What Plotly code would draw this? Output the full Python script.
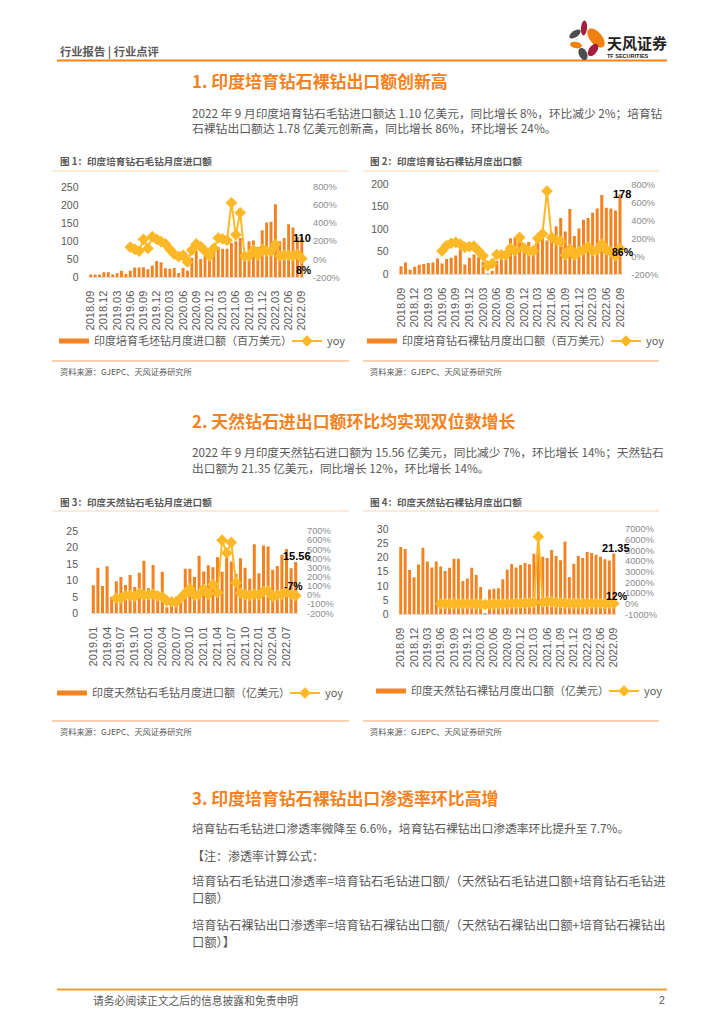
import math
import plotly.graph_objects as go

W, H = 724, 1024
CJK = "Noto Sans CJK SC"
LAT = "Liberation Sans"
ORANGE = "#F58220"
YEL = "#FDB827"
GRAY = "#595959"

months_a = ["2018.09","2018.10","2018.11","2018.12","2019.01","2019.02","2019.03","2019.04","2019.05","2019.06",
            "2019.07","2019.08","2019.09","2019.10","2019.11","2019.12","2020.01","2020.02","2020.03","2020.04",
            "2020.05","2020.06","2020.07","2020.08","2020.09","2020.10","2020.11","2020.12","2021.01","2021.02",
            "2021.03","2021.04","2021.05","2021.06","2021.07","2021.08","2021.09","2021.10","2021.11","2021.12",
            "2022.01","2022.02","2022.03","2022.04","2022.05","2022.06","2022.07","2022.08","2022.09"]
months_c = months_a[4:]
ticks_a = months_a[::3]
ticks_c = months_c[::3]

bars_1 = [8,8,8,14,14,8,11,18,9,18,27,27,28,22,33,45,42,25,24,26,12,26,18,54,74,51,60,50,71,84,79,79,95,100,109,
          70,100,102,84,130,152,154,202,100,109,147,138,112,110]
yoy_1 = [None]*9 + [135,110,90,220,120,250,220,195,170,110,55,30,45,-30,100,170,140,90,35,120,235,225,210,625,270,515,
                    35,35,100,45,110,90,90,165,35,45,45,35,55,8]
bars_2 = [18,26,10,17,21,23,25,26,35,24,34,37,42,55,22,37,44,38,28,1,8,30,35,42,80,81,70,50,72,50,85,90,75,85,107,
          125,95,145,85,102,121,125,137,146,176,148,146,142,178]
yoy_2 = [None]*9 + [60,120,145,155,135,100,108,112,60,5,-105,-80,20,15,15,90,60,210,90,60,60,200,250,725,210,180,165,
                    15,80,15,50,70,105,60,70,135,70,50,8,86]
bars_3 = [8.5,13.8,8.3,14.3,5,9.7,11,8.6,11.6,8,12.3,16,7.6,14.7,5.5,12.6,1.8,3,3.5,4,13.5,13.5,11,17.5,12.7,14.6,14,
          17,12.6,17,15.7,12,16.7,13.8,10.5,21,12.2,20.6,20.3,13.2,14.4,17.8,19.5,13.7,15.56]
yoy_3 = [None]*5 + [-35,-35,-5,-5,-15,20,0,0,10,-10,-20,-65,-75,-75,-35,20,70,-5,10,65,8,115,25,600,460,575,135,20,5,
                    -5,10,0,40,45,-20,0,8,30,10,-7]
bars_4 = [23.7,23,15.6,13,17.5,23.4,18.6,16.5,18.6,16.8,15.2,16.4,19.5,19.5,11.7,12.6,16.4,13.8,9.6,0.3,8.7,9,9.2,12.3,
          15.7,17.7,16.5,17.3,18,17.6,21.3,21.6,20.2,19.8,22.6,20.5,19,25.6,13.1,17.8,20.5,19.8,21.9,21.6,20.9,20.2,
          19.4,18.9,21.35]
yoy_4 = [None]*9 + [-10,0,-10,-5,-15,-10,-10,-20,-30,-50,-98,-50,-40,-35,-10,10,15,25,35,50,70,100,6280,130,200,170,120,
                    70,40,30,20,20,25,20,15,20,15,15,14,12]

names = ["印度培育毛坯钻月度进口额（百万美元）", "印度培育钻石裸钻月度出口额（百万美元）",
         "印度天然钻石毛钻月度进口额（亿美元）", "印度天然钻石裸钻月度出口额（亿美元）"]
titles = ["图 1：印度培育钻石毛钻月度进口额", "图 2：印度培育钻石裸钻月度出口额",
          "图 3：印度天然钻石毛钻月度进口额", "图 4：印度天然钻石裸钻月度出口额"]
bar_labels = ["110", "178", "15.56", "21.35"]
yoy_labels = ["8%", "86%", "-7%", "12%"]
left_ticks = [[0,50,100,150,200,250], [0,50,100,150,200], [0,5,10,15,20,25], [0,5,10,15,20,25,30]]
right_ticks_a = [-200,0,200,400,600,800]
right_ticks_b = [-200,-100,0,100,200,300,400,500,600,700]
right_ticks_d = [-1000,0,1000,2000,3000,4000,5000,6000,7000]

# placement of each panel, in page pixels
panels = [
    dict(x=(88.5,304), y=(187,277.3), lr=(0,250), rr=(-200,800), rt=right_ticks_a, lt=left_ticks[0], ls=9,
         cats=months_a, ticks=ticks_a, bars=bars_1, yoy=yoy_1, leg=(54,341), ew=188, ty=161, tx=59, rule=(52,349), lo=(171,361),
         bs=(0,0), ys=(2,-11)),
    dict(x=(398.7,622.3), y=(184.3,274.3), lr=(0,200), rr=(-200,800), rt=right_ticks_a, lt=left_ticks[1], ls=9,
         cats=months_a, ticks=ticks_a, bars=bars_2, yoy=yoy_2, leg=(362,341), ew=199, ty=161, tx=369, rule=(363,659), lo=(171,361),
         bs=(2,0), ys=(3,-3)),
    dict(x=(91,298), y=(531,613.3), lr=(0,25), rr=(-200,700), rt=right_ticks_b, lt=left_ticks[2], ls=12,
         cats=months_c, ticks=ticks_c, bars=bars_3, yoy=yoy_3, leg=(52,693), ew=188, ty=502, tx=59, rule=(52,349), lo=(511,721),
         bs=(1,6), ys=(-2,10)),
    dict(x=(398.5,616), y=(529,614.3), lr=(0,30), rr=(-1000,7000), rt=right_ticks_d, lt=left_ticks[3], ls=9,
         cats=months_a, ticks=ticks_a, bars=bars_4, yoy=yoy_4, leg=(371,691), ew=188, ty=502, tx=369, rule=(363,659), lo=(511,721),
         bs=(2,6), ys=(3,8)),
]

def px(x): return x / W
def py(y): return 1 - y / H

fig = go.Figure()
layout = {}
annos = []
shapes = []

def text(x, y, s, size=12, color=GRAY, bold=False, anchor="left", family=CJK):
    annos.append(dict(x=px(x), y=py(y), xref="paper", yref="paper", text=("<b>%s</b>" % s) if bold else s,
                      showarrow=False, xanchor=anchor, yanchor="middle", borderpad=0,
                      font=dict(size=size, color=color, family=family)))

def rule(x0, x1, y, color=ORANGE, w=1.0):
    shapes.append(dict(type="line", xref="paper", yref="paper", x0=px(x0), x1=px(x1), y0=py(y), y1=py(y),
                       line=dict(color=color, width=w)))

def point_label(xa, ya, x, y, s, shift, size):
    annos.append(dict(x=x, y=y, xref=xa, yref=ya, text="<b>%s</b>" % s, showarrow=False, xanchor="center",
                      yanchor="middle", borderpad=0, xshift=shift[0], yshift=shift[1],
                      font=dict(size=size, color="#000000", family=LAT)))

for i, p in enumerate(panels):
    k = i * 2 + 1
    xa = "x" if i == 0 else "x%d" % k
    ya = "y" if i == 0 else "y%d" % k
    yb = "y%d" % (k + 1)
    lg = "legend" if i == 0 else "legend%d" % (i + 1)
    n = len(p["cats"])
    fig.add_trace(go.Bar(x=p["cats"], y=p["bars"], marker=dict(color=ORANGE, line=dict(width=0)), width=0.66,
                         xaxis=xa, yaxis=ya, showlegend=False, name=names[i]))
    # legend key for the bars: a wide thick stroke, as in the reference
    fig.add_trace(go.Scatter(x=[None], y=[None], mode="lines", name=names[i], line=dict(color=ORANGE, width=5),
                             xaxis=xa, yaxis=ya, legend=lg))
    fig.add_trace(go.Scatter(x=p["cats"], y=p["yoy"], mode="lines+markers", name="yoy", xaxis=xa, yaxis=yb, legend=lg,
                             line=dict(color=YEL, width=2), marker=dict(symbol="diamond", size=9, color=YEL),
                             cliponaxis=False))
    point_label(xa, ya, n - 1, p["bars"][-1], bar_labels[i], p["bs"], 11)
    point_label(xa, yb, n - 1, p["yoy"][-1], yoy_labels[i], p["ys"], 10.5)
    axn = xa.replace("x", "xaxis")
    layout[axn] = dict(domain=[px(p["x"][0]), px(p["x"][1])], type="category", range=[-0.5, n - 0.5], anchor=ya,
                       tickmode="array", tickvals=p["ticks"], ticktext=p["ticks"], tickangle=-90, ticks="",
                       ticklabelstandoff=8, showgrid=False, zeroline=False, showline=True, linecolor="#D9D9D9",
                       linewidth=1, tickfont=dict(size=11, color=GRAY, family=LAT))
    layout[ya.replace("y", "yaxis")] = dict(domain=[py(p["y"][1]), py(p["y"][0])], range=list(p["lr"]), anchor=xa,
                       tickmode="array", tickvals=p["lt"], ticks="", ticklabelstandoff=p["ls"], showgrid=False,
                       zeroline=False, showline=False, tickfont=dict(size=10.5, color=GRAY, family=LAT))
    layout[yb.replace("y", "yaxis")] = dict(domain=[py(p["y"][1]), py(p["y"][0])], range=list(p["rr"]), anchor=xa,
                       overlaying=ya, side="right", tickmode="array", tickvals=p["rt"],
                       ticktext=["%d%%" % v for v in p["rt"]], ticks="", ticklabelstandoff=8, showgrid=False,
                       zeroline=False, showline=False, tickfont=dict(size=9.3, color="#8C8C8C", family=LAT))
    layout[lg] = dict(x=px(p["leg"][0]), y=py(p["leg"][1]), xanchor="left", yanchor="middle", orientation="h",
                      bgcolor="rgba(0,0,0,0)", borderwidth=0, itemwidth=30, entrywidth=p["ew"], entrywidthmode="pixels",
                      font=dict(size=11, color=GRAY, family=CJK))
    text(p["tx"], p["ty"], titles[i], size=9.6, bold=True)
    rule(p["rule"][0], p["rule"][1], p["lo"][0], color="#FAD7B5", w=1)
    rule(p["rule"][0], p["rule"][1], p["lo"][1], color="#F4A460", w=1)
    text(p["tx"], p["lo"][1] + 10, "资料来源：GJEPC、天风证券研究所", size=8.2)

# page frame
rule(57, 667, 60.5, color=ORANGE, w=1.8)
rule(57, 667, 989.5, color="#F0A030", w=1.8)
text(59, 51, "行业报告 | 行业点评", size=11.3, bold=True)
text(92, 1000, "请务必阅读正文之后的信息披露和免责申明", size=10.8)
text(658, 1000, "2", size=10.5, family=LAT)

# section texts
text(191, 80.5, "1. 印度培育钻石裸钻出口额创新高", size=16.9, color=ORANGE, bold=True)
text(191, 112.5, "2022 年 9 月印度培育钻石毛钻进口额达 1.10 亿美元，同比增长 8%，环比减少 2%；培育钻", size=11.7)
text(191, 127.5, "石裸钻出口额达 1.78 亿美元创新高，同比增长 86%，环比增长 24%。", size=11.8)
text(191, 420.5, "2. 天然钻石进出口额环比均实现双位数增长", size=16.9, color=ORANGE, bold=True)
text(191, 451.5, "2022 年 9 月印度天然钻石进口额为 15.56 亿美元，同比减少 7%，环比增长 14%；天然钻石", size=11.7)
text(191, 467.5, "出口额为 21.35 亿美元，同比增长 12%，环比增长 14%。", size=11.7)
text(191, 797.5, "3. 印度培育钻石裸钻出口渗透率环比高增", size=16.9, color=ORANGE, bold=True)
text(191, 827.5, "培育钻石毛钻进口渗透率微降至 6.6%，培育钻石裸钻出口渗透率环比提升至 7.7%。", size=11.8)
text(191, 855.5, "【注：渗透率计算公式：", size=12)
text(191, 880.5, "培育钻石毛钻进口渗透率=培育钻石毛钻进口额/（天然钻石毛钻进口额+培育钻石毛钻进", size=12.3)
text(191, 897.5, "口额）", size=12.3)
text(191, 924.5, "培育钻石裸钻出口渗透率=培育钻石裸钻出口额/（天然钻石裸钻出口额+培育钻石裸钻出", size=12.3)
text(191, 941.5, "口额）】", size=12.3)

# logo petals: centre x, centre y, half length, half width, angle in degrees, colour
petals = [(584, 28, 7.5, 3.0, 85, "#A61C3C"), (596, 38, 11.5, 6.0, -50, "#F08010"), (575, 34, 6.5, 3.2, 35, "#4D4D4D"),
          (576, 45, 6.0, 3.2, -10, "#F08010"), (593, 50, 7.0, 4.0, 55, "#A61C3C"), (583, 54, 6.5, 4.0, -65, "#4D4D4D")]
for cx, cy, a, b, ang, col in petals:
    t = math.radians(ang)
    pts = []
    for j in range(24):
        u = 2 * math.pi * j / 24
        ex, ey = a * math.cos(u), b * math.sin(u)
        pts.append((cx + ex * math.cos(t) - ey * math.sin(t), cy - ex * math.sin(t) - ey * math.cos(t)))
    path = "M" + "L".join("%.4f,%.4f" % (px(q[0]), py(q[1])) for q in pts) + "Z"
    shapes.append(dict(type="path", xref="paper", yref="paper", path=path, fillcolor=col, line=dict(width=0)))
text(606, 42, "天风证券", size=15, color="#222222", bold=True)
text(606, 56, "TF SECURITIES", size=5.5, color="#222222", bold=True, family=LAT)

fig.update_layout(width=W, height=H, margin=dict(l=0, r=0, t=0, b=0, pad=0, autoexpand=False), paper_bgcolor="white",
                  plot_bgcolor="white", annotations=annos, shapes=shapes, autosize=False, **layout)
fig.write_html("out.html", config=dict(displayModeBar=False), post_script="document.body.style.margin='0';")
